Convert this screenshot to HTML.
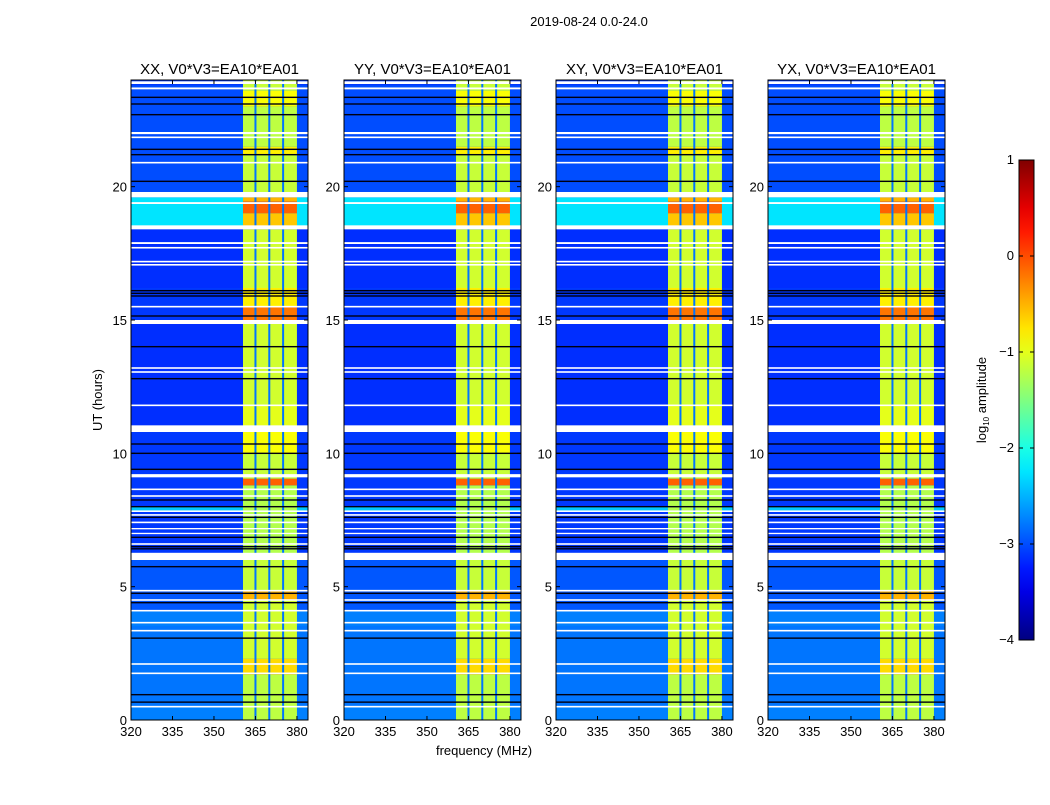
<!DOCTYPE html>
<html><head><meta charset="utf-8">
<style>
body{margin:0;background:#fff;}
svg text{font-family:"Liberation Sans",sans-serif;fill:#000;}
</style></head>
<body>
<svg id="fig" width="1050" height="800" viewBox="0 0 1050 800" xmlns="http://www.w3.org/2000/svg">
<text x="589" y="26" font-size="13" text-anchor="middle">2019-08-24 0.0-24.0</text>
<text x="484" y="755" font-size="13" text-anchor="middle">frequency (MHz)</text>
<text x="102" y="400" font-size="13" text-anchor="middle" transform="rotate(-90 102 400)">UT (hours)</text>
<g id="panels"></g>
<g id="cbar"></g>
</svg>
<script>
// ---- data ----
const panelTitles = ["XX, V0*V3=EA10*EA01","YY, V0*V3=EA10*EA01","XY, V0*V3=EA10*EA01","YX, V0*V3=EA10*EA01"];
const xTicks = [320,335,350,365,380];
const yTicks = [0,5,10,15,20];
const cbarTicks = [1,0,-1,-2,-3,-4];
// background (off-band) log10 amplitude by time segment [t0,t1,level]
const bgSegments = [[0,0.5,-2.75],[0.5,3.5,-2.8],[3.5,4.1,-2.75],[4.1,6.0,-2.95],[6.0,7.0,-3.1],[7.0,7.8,-3.1],[7.8,8.0,-2.4],[8.0,11.0,-3.1],[11.0,15.0,-3.15],[15.0,16.2,-3.1],[16.2,18.4,-3.15],[18.5,19.6,-2.25],[19.8,23.8,-3.0]];
// in-band (360.5-380 MHz) level by time segment
const bandSegments = [[0,1.7,-1.2],[1.7,2.3,-0.7],[2.3,4.5,-1.1],[4.5,4.85,-0.5],[4.85,6.0,-1.15],[6.0,8.8,-1.25],[8.8,9.05,-0.1],[9.05,10.0,-1.15],[10.0,10.8,-0.9],[10.8,11.8,-1.0],[11.8,14.9,-1.1],[14.9,15.5,-0.2],[15.5,16.2,-0.8],[16.2,18.4,-1.1],[18.5,19.0,-0.6],[19.0,19.45,-0.1],[19.45,19.6,-0.5],[19.8,21.2,-1.15],[21.2,21.5,-0.8],[21.5,23.0,-1.2],[23.0,23.6,-0.9],[23.6,24,-1.15]];
const bandRange = [360.5, 380];
const bandDividers = [365, 370, 375];
const dividerLevel = -2.8;
const whiteGaps = [[23.85,23.95],[23.65,23.72],[21.97,22.05],[21.82,21.88],[20.87,20.93],[19.6,19.8],[19.35,19.42],[18.4,18.55],[17.85,17.92],[17.68,17.74],[17.16,17.22],[17.04,17.1],[15.47,15.53],[14.85,15.0],[13.17,13.23],[13.02,13.08],[11.77,11.83],[10.8,11.05],[9.1,9.22],[8.62,8.68],[8.37,8.43],[7.8,7.86],[7.66,7.72],[7.38,7.44],[7.15,7.2],[6.97,7.02],[6.57,6.63],[6.0,6.27],[4.82,4.88],[4.47,4.53],[4.07,4.13],[3.62,3.68],[3.32,3.38],[2.07,2.13],[1.72,1.78],[0.47,0.53]];
const blackLines = [23.35,23.1,22.7,21.4,21.2,20.2,16.1,16.0,15.9,15.15,14.0,12.8,10.35,10.0,9.4,8.25,8.0,7.6,6.85,6.5,6.42,5.75,4.75,4.4,3.07,0.95,0.67];
// ---- scales ----
const NS="http://www.w3.org/2000/svg";
const panelX=[131,344,556,768], PW=177, PT=80, PB=720;
const fMin=320, fMax=384, tMin=0, tMax=24;
function jet(v){ // v in [-4,1]
  let x=(v+4)/5; x=Math.max(0,Math.min(1,x));
  const r=Math.max(0,Math.min(1,Math.min(4*x-1.5,-4*x+4.5)));
  const g=Math.max(0,Math.min(1,Math.min(4*x-0.5,-4*x+3.5)));
  const b=Math.max(0,Math.min(1,Math.min(4*x+0.5,-4*x+2.5)));
  return `rgb(${Math.round(r*255)},${Math.round(g*255)},${Math.round(b*255)})`;
}
function mk(tag,attrs,parent){const e=document.createElementNS(NS,tag);for(const k in attrs)e.setAttribute(k,attrs[k]);parent.appendChild(e);return e;}
const root=document.getElementById('panels');
panelX.forEach((x0,pi)=>{
  const xs=f=>x0+(f-fMin)/(fMax-fMin)*PW;
  const ys=t=>PB-(t-tMin)/(tMax-tMin)*(PB-PT);
  const g=mk('g',{},root);
  
  
  const base=mk('rect',{x:x0,y:PT,width:PW,height:PB-PT,fill:jet(-3.1)},g);
  
  
  bgSegments.forEach(s=>{
    const r=mk('rect',{x:x0,y:ys(s[1]),width:PW,height:ys(s[0])-ys(s[1]),fill:jet(s[2])},g);
    
    
  });
  bandSegments.forEach(s=>{
    const r=mk('rect',{x:xs(bandRange[0]),y:ys(s[1]),width:xs(bandRange[1])-xs(bandRange[0]),height:ys(s[0])-ys(s[1]),fill:jet(s[2])},g);
    
    
  });
  bandDividers.forEach(f=>{
    const r=mk('rect',{x:xs(f)-1,y:PT,width:2,height:PB-PT,fill:jet(dividerLevel)},g);
    
    
  });
  blackLines.forEach(t=>{
    const r=mk('rect',{x:x0,y:ys(t)-0.7,width:PW,height:1.4,fill:'#000010'},g);
    
    
  });
  whiteGaps.forEach(s=>{
    const h=Math.max(1.3,ys(s[0])-ys(s[1]));
    const r=mk('rect',{x:x0,y:ys(s[1]),width:PW,height:h,fill:'#fff'},g);
    
    
  });
  const fr=mk('rect',{x:x0,y:PT,width:PW,height:PB-PT,fill:'none',stroke:'#000','stroke-width':1},g);
  
  
  const tt=mk('text',{x:x0+PW/2,y:74,'font-size':15,'text-anchor':'middle'},g);
  tt.textContent=panelTitles[pi];
  
  
  xTicks.forEach(f=>{
    mk('line',{x1:xs(f),x2:xs(f),y1:PB,y2:PB-4,stroke:'#000'},g);
    mk('line',{x1:xs(f),x2:xs(f),y1:PT,y2:PT+4,stroke:'#000'},g);
    const l=mk('text',{x:xs(f),y:PB+16,'font-size':13,'text-anchor':'middle'},g);
    l.textContent=f;
    
    
  });
  yTicks.forEach(t=>{
    mk('line',{x1:x0,x2:x0+4,y1:ys(t),y2:ys(t),stroke:'#000'},g);
    mk('line',{x1:x0+PW,x2:x0+PW-4,y1:ys(t),y2:ys(t),stroke:'#000'},g);
    const l=mk('text',{x:x0-4,y:ys(t)+5,'font-size':13,'text-anchor':'end'},g);
    l.textContent=t;
    
    
  });
});
// colorbar
const cb=document.getElementById('cbar');
const cx=1019,cw=15,cT=160,cB=640;
const cy=v=>cB-(v+4)/5*(cB-cT);
const defs=mk('defs',{},cb);
const lg=mk('linearGradient',{id:'jetg',x1:0,y1:1,x2:0,y2:0},defs);
for(let i=0;i<=20;i++){mk('stop',{offset:i/20,'stop-color':jet(-4+5*i/20)},lg);}
const cr=mk('rect',{x:cx,y:cT,width:cw,height:cB-cT,fill:'url(#jetg)',stroke:'#000','stroke-width':1},cb);


cbarTicks.forEach(v=>{
  mk('line',{x1:cx,x2:cx+4,y1:cy(v),y2:cy(v),stroke:'#000'},cb);
  mk('line',{x1:cx+cw,x2:cx+cw-4,y1:cy(v),y2:cy(v),stroke:'#000'},cb);
  const l=mk('text',{x:cx-5,y:cy(v)+4,'font-size':13,'text-anchor':'end'},cb);
  l.textContent=(v<0?'\u2212'+(-v):String(v));
  
  
});
const ct=mk('text',{x:986,y:400,'font-size':13,'text-anchor':'middle',transform:'rotate(-90 986 400)'},cb);
ct.innerHTML='log<tspan font-size="8" dy="3">10</tspan><tspan dy="-3"> amplitude</tspan>';


</script>
</body></html>
